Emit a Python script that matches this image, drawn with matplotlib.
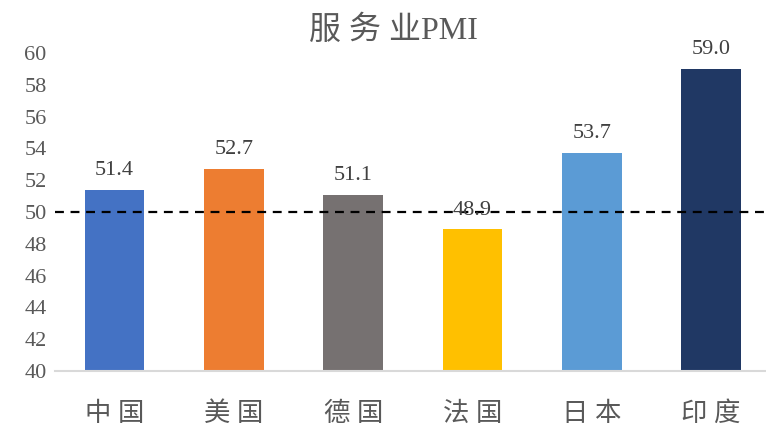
import matplotlib.pyplot as plt

categories = ["中国", "美国", "德国", "法国", "日本", "印度"]
pmi = [51.4, 52.7, 51.1, 48.9, 53.7, 59.0]
colors = ["#4472C4", "#ED7D31", "#767171", "#FFC000", "#5B9BD5", "#203864"]
yticks = [40, 42, 44, 46, 48, 50, 52, 54, 56, 58, 60]

plt.rcParams['font.family'] = ['Liberation Serif', 'Noto Sans CJK SC']

fig = plt.figure(figsize=(7.66, 4.25), dpi=100)
ax = fig.add_axes([55 / 766, 54 / 425, 711 / 766, 318 / 425])

x = range(len(categories))
ax.bar(x, pmi, width=0.5, color=colors, zorder=2)
ax.axhline(50, color="black", linestyle=(0, (4, 3)), linewidth=1.6, zorder=3)

for i, v in enumerate(pmi):
    ax.annotate(f"{v:.1f}", (i, v), xytext=(0, 7), textcoords="offset points",
                ha="center", va="bottom", fontsize=16, color="#404040", zorder=4)

ax.set_ylim(40, 60)
ax.set_xlim(-0.5, 5.46)
ax.set_yticks(yticks)
ax.set_yticklabels([str(t) for t in yticks], fontsize=16, color="#595959")
ax.set_xticks(list(x))
# spaced characters, like the original
ax.set_xticklabels([" ".join(c) for c in categories], fontsize=19, color="#595959")
ax.tick_params(axis="both", length=0)
ax.tick_params(axis="x", pad=22)
ax.tick_params(axis="y", pad=6)
for s in ["top", "right", "left"]:
    ax.spines[s].set_visible(False)
ax.spines["bottom"].set_color("#D9D9D9")
ax.spines["bottom"].set_linewidth(1.5)

fig.text(393 / 766, 1 - 31 / 425, "服 务 业PMI", ha="center", va="center",
         fontsize=23, color="#595959")

fig.savefig("out.png", dpi=100)
